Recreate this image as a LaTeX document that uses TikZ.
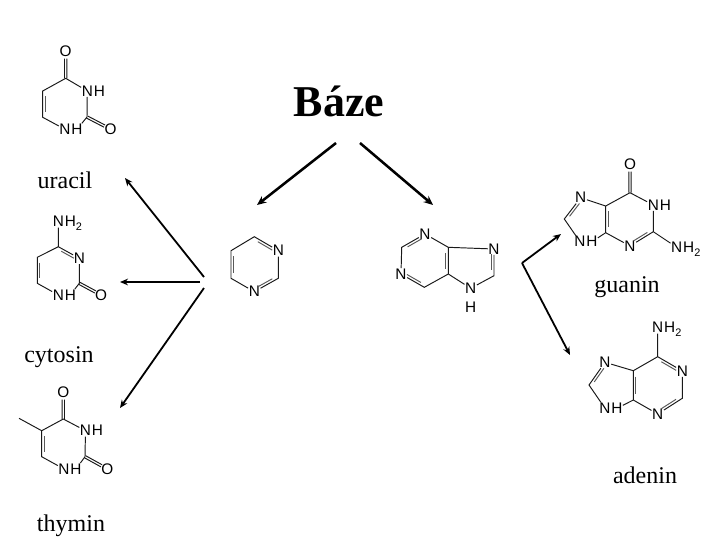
\documentclass[tikz,border=0pt]{standalone}
\usepackage{fontspec}
\setmainfont{Liberation Serif}
\newfontfamily\atomfont{Liberation Sans}
\usetikzlibrary{calc,arrows.meta}
\newcommand{\subtwo}{\raisebox{-2.6pt}{\fontsize{8.2}{9}\selectfont 2}}
\tikzset{
  atom/.style={font=\atomfont\fontsize{11.5}{13}\selectfont,inner sep=.3pt,text=black},
  hatom/.style={atom,anchor=base west,inner xsep=0pt},
  bond/.style={line width=.72pt,draw=black!90},
  inbond/.style={line width=.72pt,draw=black!65},
  caption/.style={font=\fontsize{18}{20}\selectfont,anchor=base},
  title/.style={font=\bfseries\fontsize{33}{36}\selectfont,anchor=base},
  bigarrow/.style={line width=1.9pt,-{Stealth[length=7pt,width=6pt]}},
  thinarrow/.style={line width=1.35pt,-{Stealth[length=6pt,width=5pt]}}
}
\newcommand{\dbond}[3]{\draw[inbond] ($(#1)!.2!(#2)!1.9pt!#3:(#2)$) -- ($(#1)!.8!(#2)!1.9pt!-#3:(#1)$);}
\newcommand{\cobond}[2]{\draw[bond] ($(#1)!.9pt!90:(#2)$) -- ($(#1)!.74!(#2)!.9pt!90:(#2)$)
  ($(#1)!.9pt!-90:(#2)$) -- ($(#1)!.74!(#2)!.9pt!-90:(#2)$);}
\begin{document}
\begin{tikzpicture}[x=.75pt,y=-.75pt]
\useasboundingbox (0,0) rectangle (720,540);
\fill[white] (0,0) rectangle (720,540);

% titles and captions
\node[title] (baze) at (339,116) {Báze};
\node[caption] (luracil) at (65,188) {uracil};
\node[caption] (lcytosin) at (59,362) {cytosin};
\node[caption] (lthymin) at (71,531) {thymin};
\node[caption] (lguanin) at (627,292) {guanin};
\node[caption] (ladenin) at (645,483) {adenin};

% uracil
\begin{scope}[name prefix=u-]
\node[atom] (o4) at (65.7,51.7) {O};
\coordinate (c4) at (65.7,78.3);
\node[atom] (n3) at (87.3,91) {N};
\node[hatom] (h3) at (n3.base east) {H};
\coordinate (c2) at (87,117);
\node[atom] (o2) at (110.7,129.3) {O};
\node[atom] (n1) at (65,129.3) {N};
\node[hatom] (h1) at (n1.base east) {H};
\coordinate (c6) at (42.7,117.3);
\coordinate (c5) at (42.7,91);
\cobond{c4}{o4}
\draw[bond] (c4) -- (n3) (n3) -- (c2) (c2) -- (h1) (n1) -- (c6) -- (c5) -- (c4);
\cobond{c2}{o2}
\dbond{c5}{c6}{90}
\end{scope}

% cytosin
\begin{scope}[name prefix=c-]
\node[atom] (n4) at (58.3,221.7) {N};
\node[hatom] (h4) at (n4.base east) {H\subtwo};
\coordinate (c4) at (58.3,246.7);
\node[atom] (n3) at (79.3,258.3) {N};
\coordinate (c2) at (79.3,283.3);
\node[atom] (o2) at (101,295) {O};
\node[atom] (n1) at (58.3,295) {N};
\node[hatom] (h1) at (n1.base east) {H};
\coordinate (c6) at (37.3,283.3);
\coordinate (c5) at (37.3,257.3);
\draw[bond] (n4) -- (c4) -- (n3) (n3) -- (c2) (c2) -- (h1) (n1) -- (c6) -- (c5) -- (c4);
\cobond{c2}{o2}
\dbond{c4}{n3}{-90}
\dbond{c5}{c6}{90}
\end{scope}

% thymin
\begin{scope}[name prefix=t-]
\node[atom] (o4) at (63.3,392.7) {O};
\coordinate (c4) at (63.3,419);
\node[atom] (n3) at (85.5,430.7) {N};
\node[hatom] (h3) at (n3.base east) {H};
\coordinate (c2) at (85,456.7);
\node[atom] (o2) at (107.3,469) {O};
\node[atom] (n1) at (64,469) {N};
\node[hatom] (h1) at (n1.base east) {H};
\coordinate (c6) at (41.7,456.7);
\coordinate (c5) at (41.7,430.7);
\coordinate (me) at (19,418.3);
\cobond{c4}{o4}
\draw[bond] (c4) -- (n3) (n3) -- (c2) (c2) -- (h1) (n1) -- (c6) -- (c5) -- (c4) (c5) -- (me);
\cobond{c2}{o2}
\dbond{c5}{c6}{90}
\end{scope}

% pyrimidine
\begin{scope}[name prefix=p-]
\node[atom] (n1) at (278.3,250.7) {N};
\coordinate (c2) at (254.3,236.7);
\coordinate (c3) at (231,250.7);
\coordinate (c4) at (231,278.3);
\node[atom] (n5) at (254.3,291.7) {N};
\coordinate (c6) at (278.3,278.3);
\draw[bond] (n1) -- (c2) -- (c3) -- (c4) -- (n5) (n5) -- (c6) -- (n1);
\dbond{c2}{n1}{-90}
\dbond{c3}{c4}{90}
\dbond{n5}{c6}{90}
\end{scope}

% purine
\begin{scope}[name prefix=r-]
\node[atom] (n1) at (425,234) {N};
\coordinate (c2) at (401.7,247.3);
\node[atom] (n3) at (401,274) {N};
\coordinate (c4) at (424.3,287.3);
\coordinate (c5) at (448.3,274);
\coordinate (c6) at (448.3,247.3);
\node[atom] (n7) at (494,249) {N};
\coordinate (c8) at (494,275.7);
\node[atom] (n9) at (470.7,288.3) {N};
\node[atom] (h9) at (470.7,307.3) {H};
\draw[bond] (n1) -- (c2) -- (n3) (n3) -- (c4) -- (c5) -- (c6) -- (n1) (c6) -- (n7) (n7) -- (c8) -- (n9) (n9) -- (c5);
\dbond{n1}{c2}{90}
\dbond{n3}{c4}{90}
\dbond{c5}{c6}{90}
\dbond{n7}{c8}{-90}
\end{scope}

% guanin
\begin{scope}[name prefix=g-]
\node[atom] (o6) at (630,164.3) {O};
\coordinate (c6) at (630,192.7);
\node[atom] (n1) at (653.3,205) {N};
\node[hatom] (h1) at (n1.base east) {H};
\coordinate (c2) at (653.3,231.7);
\node[atom] (n3) at (630,246) {N};
\coordinate (c4) at (605.7,232.7);
\coordinate (c5) at (605.7,206);
\node[atom] (n7) at (580.7,197.7) {N};
\coordinate (c8) at (564.3,219);
\node[atom] (n9) at (580,241.7) {N};
\node[hatom] (h9) at (n9.base east) {H};
\node[atom] (n2) at (676.7,247.3) {N};
\node[hatom] (h2) at (n2.base east) {H\subtwo};
\cobond{c6}{o6}
\draw[bond] (c6) -- (n1) (n1) -- (c2) -- (n3) (n3) -- (c4) -- (c5) -- (c6) (c5) -- (n7) (n7) -- (c8) -- (n9) (h9) -- (c4) (c2) -- (n2);
\dbond{n7}{c8}{90}
\dbond{c5}{c4}{90}
\dbond{c2}{n3}{-90}
\end{scope}

% adenin
\begin{scope}[name prefix=a-]
\node[atom] (n6) at (657.7,327.7) {N};
\node[hatom] (h6) at (n6.base east) {H\subtwo};
\coordinate (c6) at (657.7,356.7);
\node[atom] (n1) at (682.3,371) {N};
\coordinate (c2) at (682.3,398.3);
\node[atom] (n3) at (657.7,414) {N};
\coordinate (c4) at (633.3,400);
\coordinate (c5) at (633.3,370.7);
\node[atom] (n7) at (605,362.3) {N};
\coordinate (c8) at (589,385);
\node[atom] (n9) at (605,408.3) {N};
\node[hatom] (h9) at (n9.base east) {H};
\draw[bond] (n6) -- (c6) -- (n1) (n1) -- (c2) -- (n3) (n3) -- (c4) -- (c5) -- (c6) (c5) -- (n7) (n7) -- (c8) -- (n9) (h9) -- (c4);
\dbond{n7}{c8}{90}
\dbond{c5}{c4}{90}
\dbond{c6}{n1}{-90}
\dbond{c2}{n3}{-90}
\end{scope}

% arrows
\coordinate (ba) at (336,143);
\coordinate (bb) at (360,143);
\coordinate (pyr) at (257,205);
\coordinate (pur) at (433,205);
\draw[bigarrow] (ba) -- (pyr);
\draw[bigarrow] (bb) -- (pur);
\coordinate (fa) at (204,277);
\coordinate (fb) at (200,282);
\coordinate (fc) at (204,288);
\coordinate (ua) at (125,178);
\coordinate (ca) at (120,282);
\coordinate (ta) at (120,408);
\draw[thinarrow] (fa) -- (ua);
\draw[thinarrow] (fb) -- (ca);
\draw[thinarrow] (fc) -- (ta);
\coordinate (fr) at (522,263);
\coordinate (ga) at (561,234);
\coordinate (aa) at (570,355);
\draw[thinarrow] (fr) -- (ga);
\draw[thinarrow] (fr) -- (aa);
\end{tikzpicture}
\end{document}
